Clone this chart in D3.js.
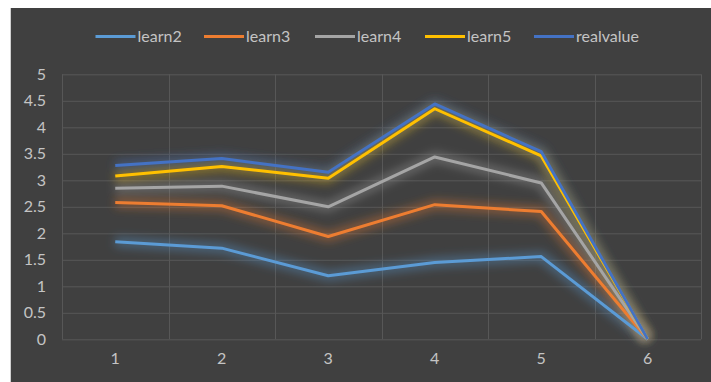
<!DOCTYPE html>
<html>
<head>
<meta charset="utf-8">
<script src="https://cdn.jsdelivr.net/npm/d3@7"></script>
<style>
  html, body { margin: 0; padding: 0; background: #ffffff; }
  svg { display: block; }
  text { font-family: "Lato", "Open Sans", sans-serif; }
</style>
</head>
<body>
<svg id="chart" width="711" height="382"></svg>
<script>
// Categories along the x axis
const categories = ["1", "2", "3", "4", "5", "6"];

// One array of values per series
const learn2 = [1.84, 1.72, 1.20, 1.45, 1.56, 0];
const learn3 = [2.58, 2.52, 1.94, 2.54, 2.41, 0];
const learn4 = [2.85, 2.89, 2.50, 3.44, 2.95, 0];
const learn5 = [3.08, 3.26, 3.04, 4.35, 3.46, 0];
const realvalue = [3.28, 3.41, 3.15, 4.44, 3.54, 0];

const seriesNames = ["learn2", "learn3", "learn4", "learn5", "realvalue"];
const seriesColors = ["#5B9BD5", "#ED7D31", "#A5A5A5", "#FFC000", "#4472C4"];
const yTicks = [0, 0.5, 1, 1.5, 2, 2.5, 3, 3.5, 4, 4.5, 5];

const series = [learn2, learn3, learn4, learn5, realvalue].map((values, i) => ({
  name: seriesNames[i], color: seriesColors[i], values
}));

const svg = d3.select("#chart");
const textColor = "#c4c4c4";
const fontSize = "16px";

// Chart area background
svg.append("rect")
  .attr("x", 11).attr("y", 8)
  .attr("width", 700).attr("height", 374)
  .attr("fill", "#404040");
svg.append("line")
  .attr("x1", 10.5).attr("x2", 10.5).attr("y1", 8).attr("y2", 382)
  .attr("stroke", "#d0d0d0");

const plot = { left: 62, right: 701, top: 74.3, bottom: 339.3 };

const x = d3.scaleBand().domain(categories).range([plot.left, plot.right]).padding(0);
const y = d3.scaleLinear().domain([0, 5]).range([plot.bottom, plot.top]);

// Soft glow behind each line
const defs = svg.append("defs");
defs.append("filter").attr("id", "glow")
  .attr("x", "-10%").attr("y", "-20%").attr("width", "120%").attr("height", "140%")
  .append("feGaussianBlur").attr("stdDeviation", 5);

// Horizontal gridlines
svg.append("g")
  .attr("transform", `translate(${plot.left},0)`)
  .call(d3.axisLeft(y).tickValues(yTicks).tickSize(-(plot.right - plot.left)).tickFormat(""))
  .call(g => g.select(".domain").remove())
  .call(g => g.selectAll("line").attr("stroke", "#575757").attr("stroke-width", 1));

// Vertical gridlines at category boundaries
const boundaries = categories.map(c => x(c)).concat([plot.right]);
svg.append("g").selectAll("line").data(boundaries).join("line")
  .attr("x1", d => Math.round(d) + 0.5).attr("x2", d => Math.round(d) + 0.5)
  .attr("y1", plot.top).attr("y2", plot.bottom)
  .attr("stroke", "#575757").attr("stroke-width", 1);

// Y axis labels
svg.append("g")
  .attr("transform", `translate(${plot.left - 16},0)`)
  .call(d3.axisLeft(y).tickValues(yTicks).tickSize(0).tickPadding(0).tickFormat(d3.format("")))
  .call(g => g.select(".domain").remove())
  .call(g => g.selectAll("text")
    .attr("fill", textColor).style("font-size", fontSize)
    .style("font-family", "Lato, 'Open Sans', sans-serif"));

// X axis labels
svg.append("g")
  .attr("transform", `translate(0,${plot.bottom + 13})`)
  .call(d3.axisBottom(x).tickSize(0).tickPadding(0))
  .call(g => g.select(".domain").remove())
  .call(g => g.selectAll("text")
    .attr("fill", textColor).style("font-size", fontSize)
    .style("font-family", "Lato, 'Open Sans', sans-serif"));

const line = d3.line()
  .x((d, i) => x(categories[i]) + x.bandwidth() / 2)
  .y(d => y(d));

// Glow layer
svg.append("g").selectAll("path").data(series).join("path")
  .attr("d", d => line(d.values))
  .attr("fill", "none")
  .attr("stroke", d => d.color)
  .attr("stroke-width", 10)
  .attr("stroke-opacity", 0.4)
  .attr("stroke-linejoin", "round")
  .attr("filter", "url(#glow)");

// Lines
svg.append("g").selectAll("path").data(series).join("path")
  .attr("d", d => line(d.values))
  .attr("fill", "none")
  .attr("stroke", d => d.color)
  .attr("stroke-width", 3)
  .attr("stroke-linejoin", "round");

// Legend
const legendX = [95.5, 204, 315, 425, 534];
const legend = svg.append("g").selectAll("g").data(series).join("g")
  .attr("transform", (d, i) => `translate(${legendX[i]},36.5)`);
legend.append("line")
  .attr("x1", 0).attr("x2", 40).attr("y1", 0).attr("y2", 0)
  .attr("stroke", d => d.color).attr("stroke-width", 3);
legend.append("text")
  .attr("x", 42).attr("y", 0).attr("dy", "0.35em")
  .attr("fill", textColor).style("font-size", fontSize)
  .text(d => d.name);
</script>
</body>
</html>
